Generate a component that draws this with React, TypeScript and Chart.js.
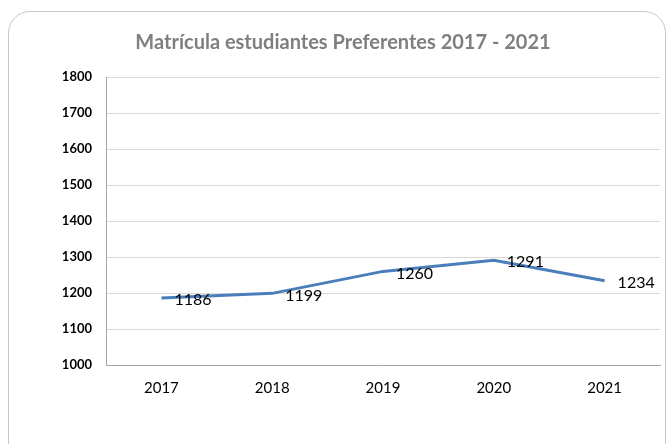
import React, { useEffect, useRef } from "react";
import { Chart, registerables } from "chart.js";

Chart.register(...registerables);

const title = "Matrícula estudiantes Preferentes 2017 - 2021";
const years = ["2017", "2018", "2019", "2020", "2021"];
const enrollment = [1186, 1199, 1260, 1291, 1234];
const yMin = 1000;
const yMax = 1800;
const yStep = 100;

const FONT = "Lato, 'Liberation Sans', sans-serif";

const titlePlugin = {
  id: "customTitle",
  afterDraw(chart: any) {
    const ctx = chart.ctx;
    ctx.save();
    ctx.font = `bold 20px ${FONT}`;
    ctx.fillStyle = "#7f7f7f";
    ctx.textAlign = "center";
    ctx.textBaseline = "middle";
    ctx.fillText(title, 343, 43);
    ctx.restore();
  },
};

const labelPlugin = {
  id: "pointLabels",
  afterDatasetsDraw(chart: any) {
    const ctx = chart.ctx;
    const meta = chart.getDatasetMeta(0);
    ctx.save();
    ctx.font = `16px ${FONT}`;
    ctx.fillStyle = "#000000";
    ctx.textAlign = "left";
    ctx.textBaseline = "middle";
    meta.data.forEach((pt: any, i: number) => {
      ctx.fillText(String(enrollment[i]), pt.x + 13, pt.y + 2);
    });
    ctx.restore();
  },
};

export default function App() {
  const ref = useRef<HTMLCanvasElement | null>(null);
  useEffect(() => {
    if (!ref.current) return;
    const chart = new Chart(ref.current, {
      type: "line",
      data: {
        labels: years,
        datasets: [
          {
            data: enrollment,
            borderColor: "#4a7ebb",
            borderWidth: 3,
            pointRadius: 0,
            tension: 0,
            fill: false,
          },
        ],
      },
      options: {
        animation: false,
        responsive: false,
        layout: { padding: { left: 0, right: 10, top: 77, bottom: 0 } },
        plugins: {
          legend: { display: false },
          tooltip: { enabled: false },
          title: { display: false },
        },
        scales: {
          x: {
            offset: true,
            grid: { display: false, drawTicks: false },
            border: { display: true, color: "#a6a6a6", width: 1 },
            ticks: {
              padding: 14,
              color: "#000000",
              font: { family: FONT, size: 15 },
            },
            afterFit(scale: any) {
              scale.height = 79;
            },
          },
          y: {
            min: yMin,
            max: yMax,
            grid: { color: "#d9d9d9", drawTicks: false, lineWidth: 1 },
            border: { display: true, color: "#a6a6a6", width: 1 },
            ticks: {
              stepSize: yStep,
              padding: 14,
              color: "#000000",
              font: { family: FONT, size: 13, weight: "bold" },
              callback: (v: any) => String(v),
            },
            afterFit(scale: any) {
              scale.width = 106;
            },
          },
        },
      },
      plugins: [titlePlugin, labelPlugin],
    });
    return () => chart.destroy();
  }, []);

  return (
    <div style={{ position: "fixed", left: 0, top: 0, width: 670, height: 444, background: "#fff", overflow: "hidden" }}>
      <div
        style={{
          position: "absolute",
          left: 8,
          top: 11,
          width: 658,
          height: 460,
          border: "1px solid #c8c8c8",
          borderRadius: 22,
          boxSizing: "border-box",
        }}
      />
      <canvas ref={ref} width={670} height={444} style={{ position: "absolute", left: 0, top: 0 }} />
    </div>
  );
}
